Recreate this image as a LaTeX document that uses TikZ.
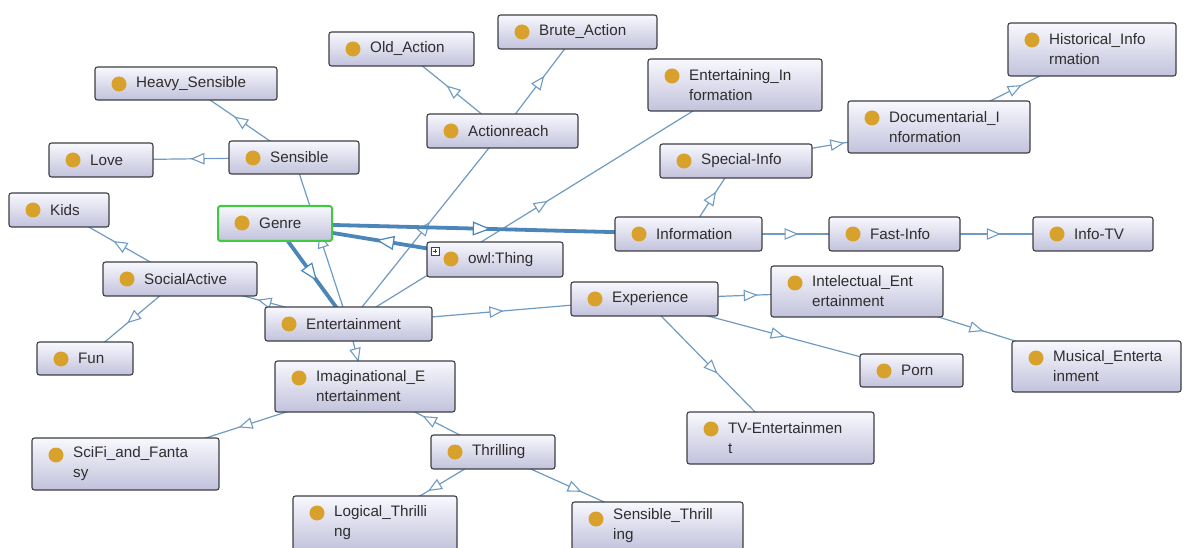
\documentclass[tikz,border=0pt]{standalone}
\usepackage{fontspec}
\setmainfont{Liberation Sans}
\usetikzlibrary{arrows.meta,decorations.markings,backgrounds}
\definecolor{linkc}{HTML}{6F9BC2}
\definecolor{thickc}{HTML}{4C85B8}
\definecolor{boxtop}{HTML}{F8F8FE}
\definecolor{boxbot}{HTML}{C2C2DC}
\definecolor{boxline}{HTML}{3E3E44}
\definecolor{dotc}{HTML}{D8A12C}
\definecolor{txtc}{HTML}{2E2E2E}
\definecolor{genrec}{HTML}{3FCB3F}
\tikzset{
  cbox/.style={rectangle, rounded corners=2.5pt, draw=boxline, line width=1.1pt,
    top color=boxtop, bottom color=boxbot, inner sep=0pt, outer sep=0pt},
  clbl/.style={anchor=west, align=left, inner sep=0pt, text=txtc,
    font=\fontsize{15.2}{20}\selectfont},
  lnk/.style={draw=linkc, line width=1.2pt},
  thk/.style={draw=thickc, line width=3.8pt},
  arrt/.style={postaction={decorate,decoration={markings,mark=at position 0.5 with
    {\arrow[xshift=7pt]{Triangle[open,length=14pt,width=11.5pt,fill=white,line width=1.1pt]}}}}},
  arrT/.style={postaction={decorate,decoration={markings,mark=at position 0.5 with
    {\arrow[xshift=9pt]{Triangle[open,length=18pt,width=14pt,fill=white,line width=1.2pt]}}}}},
}
\newcommand\onto[7][]{%
  \node[cbox,#1, minimum width={(#5-#3)*1pt}, minimum height={(#6-#4)*1pt}] (#2) at ({(#3+#5)/2},{(#4+#6)/2}) {};
  \fill[dotc] ({#3+24},{#4+17}) circle[radius=7.5pt];
  \node[clbl] (#2-t) at ({#3+41},{(#4+#6)/2}) {#7};
}
\begin{document}
\begin{tikzpicture}[x=1pt,y=-1pt]
\useasboundingbox (0,0) rectangle (1187,548);
\clip (0,0) rectangle (1187,548);
% classes
\onto{Heavy}{95}{67}{277}{100}{Heavy\_Sensible}
\onto{Love}{49}{143}{153}{177}{Love}
\onto{Sensible}{229}{141}{359}{174}{Sensible}
\onto{OldAct}{329}{32}{474}{66}{Old\_Action}
\onto{Brute}{498}{15}{657}{49}{Brute\_Action}
\onto{Actionreach}{427}{114}{578}{148}{Actionreach}
\onto{EntInfo}{648}{59}{822}{111}{Entertaining\_In\\formation}
\onto{SpecialInfo}{660}{144}{812}{178}{Special-Info}
\onto{Historical}{1008}{23}{1176}{76}{Historical\_Info\\rmation}
\onto{Doc}{848}{101}{1030}{153}{Documentarial\_I\\nformation}
\onto{Kids}{9}{193}{109}{227}{Kids}
\onto[draw=genrec, line width=2pt]{Genre}{218}{206}{332}{241}{Genre}
\onto{SocialActive}{103}{262}{257}{296}{SocialActive}
\onto{Entertainment}{265}{307}{432}{341}{Entertainment}
\onto{Fun}{37}{342}{133}{375}{Fun}
\onto{Imag}{275}{361}{455}{412}{Imaginational\_E\\ntertainment}
\onto{Information}{615}{217}{762}{251}{Information}
\onto{Thing}{427}{242}{563}{277}{owl:Thing}
\onto{Experience}{571}{282}{718}{316}{Experience}
\onto{FastInfo}{829}{217}{960}{251}{Fast-Info}
\onto{InfoTV}{1033}{217}{1153}{251}{Info-TV}
\onto{Intelectual}{771}{266}{943}{317}{Intelectual\_Ent\\ertainment}
\onto{Porn}{860}{354}{963}{387}{Porn}
\onto{Musical}{1012}{341}{1181}{392}{Musical\_Enterta\\inment}
\onto{SciFi}{32}{438}{219}{490}{SciFi\_and\_Fanta\\sy}
\onto{Logical}{293}{496}{457}{550}{Logical\_Thrilli\\ng}
\onto{Thrilling}{431}{435}{555}{469}{Thrilling}
\onto{SensThr}{572}{502}{743}{550}{Sensible\_Thrill\\ing}
\onto{TVEnt}{687}{412}{874}{464}{TV-Entertainmen\\t}
% expand icon on owl:Thing
\draw[boxline, line width=0.8pt, fill=white] (431,247) rectangle (439,255);
\draw[boxline, line width=0.8pt] (432.8,251) -- (437.2,251) (435,248.8) -- (435,253.2);
% connectors
\begin{scope}[on background layer]
  \fill[white] (0,0) rectangle (1187,548);
  \draw[lnk,arrt] (Sensible.center) -- (Heavy.center);
  \draw[lnk,arrt] (Sensible.center) -- (Love.center);
  \draw[lnk,arrt] (Entertainment.center) -- (Sensible.center);
  \draw[lnk,arrt] (Actionreach.center) -- (OldAct.center);
  \draw[lnk,arrt] (Actionreach.center) -- (Brute.center);
  \draw[lnk,arrt] (Entertainment.center) -- (Actionreach.center);
  \draw[lnk,arrt] (Entertainment.center) -- (EntInfo.center);
  \draw[lnk,arrt] (Information.center) -- (SpecialInfo.center);
  \draw[lnk,arrt] (SpecialInfo.center) -- (Doc.center);
  \draw[lnk,arrt] (Doc.center) -- (Historical.center);
  \draw[lnk,arrt] (Information.center) -- (FastInfo.center);
  \draw[lnk,arrt] (FastInfo.center) -- (InfoTV.center);
  \draw[lnk,arrt] (Entertainment.center) -- (Experience.center);
  \draw[lnk,arrt] (Experience.center) -- (Intelectual.center);
  \draw[lnk,arrt] (Experience.center) -- (Porn.center);
  \draw[lnk,arrt] (Experience.center) -- (TVEnt.center);
  \draw[lnk,arrt] (Intelectual.center) -- (Musical.center);
  \draw[lnk,arrt] (Entertainment.center) -- (SocialActive.center);
  \draw[lnk,arrt] (SocialActive.center) -- (Kids.center);
  \draw[lnk,arrt] (SocialActive.center) -- (Fun.center);
  \draw[lnk,arrt] (Entertainment.center) -- (Imag.center);
  \draw[lnk,arrt] (Imag.center) -- (SciFi.center);
  \draw[lnk,arrt] (Thrilling.center) -- (Imag.center);
  \draw[lnk,arrt] (Thrilling.center) -- (Logical.center);
  \draw[lnk,arrt] (Thrilling.center) -- (SensThr.center);
  \draw[thk,arrT] (Genre.center) -- (Information.center);
  \draw[thk,arrT] (Thing.center) -- (Genre.center);
  \draw[thk,arrT] (Genre.center) -- (Entertainment.center);
\end{scope}
\end{tikzpicture}
\end{document}
